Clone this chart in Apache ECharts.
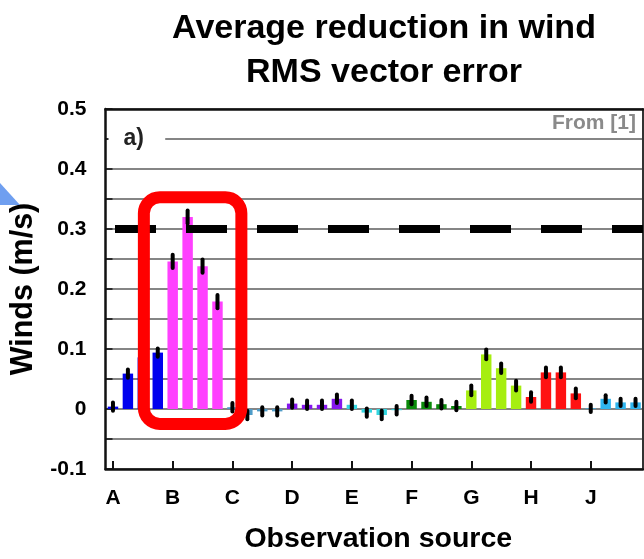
<!DOCTYPE html>
<html>
<head>
<meta charset="utf-8">
<script src="https://cdn.jsdelivr.net/npm/echarts@6/dist/echarts.min.js"></script>
<style>
  html, body { margin: 0; padding: 0; background: #ffffff; }
  #chart { width: 644px; height: 559px; }
</style>
</head>
<body>
<div id="chart"></div>
<script>
// Observation sources, four experiments per source
const categories = ['A', 'B', 'C', 'D', 'E', 'F', 'G', 'H', 'J'];

// Average reduction in wind RMS vector error (m/s), per source
const valuesA = [0.004, 0.059, 0.086, 0.094];
const valuesB = [0.246, 0.320, 0.238, 0.179];
const valuesC = [0.003, -0.010, -0.004, -0.004];
const valuesD = [0.009, 0.007, 0.007, 0.017];
const valuesE = [0.007, -0.006, -0.010, -0.002];
const valuesF = [0.015, 0.012, 0.008, 0.005];
const valuesG = [0.031, 0.091, 0.068, 0.039];
const valuesH = [0.020, 0.061, 0.061, 0.026];
const valuesJ = [0.001, 0.017, 0.011, 0.011];

// Half-length of the error bars, per source
const errorHalf = [0.007, 0.011, 0.007, 0.007, 0.007, 0.007, 0.008, 0.008, 0.006];

// Reference level drawn as a thick dashed line
const thresholdValue = 0.3;

// Value axis range and tick labels
const yMin = -0.1, yMax = 0.5, yStep = 0.05;
const yTickLabels = ['-0.1', '0', '0.1', '0.2', '0.3', '0.4', '0.5'];

const groups = [valuesA, valuesB, valuesC, valuesD, valuesE, valuesF, valuesG, valuesH, valuesJ];
const groupColors = ['#0000ee', '#ff40ff', '#4f9cc8', '#8516ec', '#33d6e0',
                     '#0a8a0a', '#a6ee10', '#ff1212', '#2fb5ef'];

const FONT = '"Liberation Sans", Arial, Helvetica, sans-serif';

// One slot per bar; the source letter sits under the first bar of its group
const slots = [], barData = [], errData = [];
groups.forEach((vals, g) => {
  vals.forEach((v, k) => {
    const i = slots.length;
    slots.push(categories[g] + '_' + k);
    barData.push({ value: v, itemStyle: { color: groupColors[g] } });
    errData.push([i, v, errorHalf[g]]);
  });
});
const perGroup = valuesA.length;

function yLabel(v) {
  const t = Math.round(v * 100);
  if (t % 10 !== 0) return '';
  const hit = yTickLabels.find(l => Math.abs(parseFloat(l) - t / 100) < 1e-9);
  return hit !== undefined ? hit : (t / 100).toFixed(1);
}

const chart = echarts.init(document.getElementById('chart'), null, { renderer: 'canvas' });

const option = {
  backgroundColor: '#ffffff',
  animation: false,
  title: {
    text: 'Average reduction in wind\nRMS vector error',
    left: 379,
    top: 2,
    textAlign: 'center',
    textStyle: {
      fontFamily: FONT, fontWeight: 'bold', fontSize: 34, lineHeight: 44, color: '#000000'
    }
  },
  grid: { left: 105.5, right: 1, top: 109, bottom: 80, containLabel: false },
  xAxis: [
    {
      type: 'category',
      data: slots,
      position: 'bottom',
      boundaryGap: true,
      name: 'Observation source',
      nameLocation: 'middle',
      nameGap: 56,
      nameTextStyle: {
        fontFamily: FONT, fontWeight: 'bold', fontSize: 28.5, color: '#000000',
        padding: [0, 0, 0, 8]
      },
      axisLine: { onZero: false, lineStyle: { color: '#111111', width: 2.5 } },
      axisTick: {
        show: true, inside: true, length: 8, alignWithLabel: true,
        interval: (idx) => idx % perGroup === 0,
        lineStyle: { color: '#111111', width: 2 }
      },
      axisLabel: {
        interval: 0,
        margin: 19,
        fontFamily: FONT, fontWeight: 'bold', fontSize: 21, color: '#000000',
        formatter: (val, idx) => (idx % perGroup === 0 ? categories[idx / perGroup] : '')
      },
      splitLine: { show: false }
    },
    {
      type: 'category',
      data: slots,
      position: 'top',
      axisLine: { onZero: false, lineStyle: { color: '#111111', width: 2.5 } },
      axisTick: { show: false },
      axisLabel: { show: false },
      splitLine: { show: false }
    }
  ],
  yAxis: [
    {
      type: 'value',
      min: yMin, max: yMax, interval: yStep,
      name: 'Winds (m/s)',
      nameLocation: 'middle',
      nameRotate: 90,
      nameGap: 53,
      nameTextStyle: { fontFamily: FONT, fontWeight: 'bold', fontSize: 30.5, color: '#000000' },
      axisLine: { show: true, onZero: false, lineStyle: { color: '#111111', width: 2.5 } },
      axisTick: { show: true, inside: true, length: 7, lineStyle: { color: '#111111', width: 1.5 } },
      axisLabel: {
        margin: 19,
        fontFamily: FONT, fontWeight: 'bold', fontSize: 21, color: '#000000',
        formatter: yLabel
      },
      splitLine: { show: true, lineStyle: { color: '#858585', width: 2 } }
    },
    {
      type: 'value',
      min: yMin, max: yMax, interval: yStep,
      position: 'right',
      axisLine: { show: true, onZero: false, lineStyle: { color: '#333333', width: 2 } },
      axisTick: { show: false },
      axisLabel: { show: false },
      splitLine: { show: false }
    }
  ],
  series: [
    {
      type: 'bar',
      data: barData,
      barWidth: '70%',
      z: 2,
      markLine: {
        silent: true,
        symbol: 'none',
        label: { show: false },
        lineStyle: { color: '#000000', width: 8, type: [41, 30], dashOffset: 61.5 },
        data: [{ yAxis: thresholdValue }],
        z: 5
      }
    },
    {
      type: 'custom',
      data: errData,
      encode: { x: 0, y: 1 },
      z: 4,
      renderItem: (params, api) => {
        const x = api.value(0), v = api.value(1), e = api.value(2);
        const top = api.coord([x, v + e]);
        const bot = api.coord([x, v - e]);
        return {
          type: 'line',
          shape: { x1: top[0], y1: top[1], x2: bot[0], y2: bot[1] },
          style: { stroke: '#000000', lineWidth: 4, lineCap: 'round' }
        };
      }
    }
  ]
};

chart.setOption(option);

// Annotations placed from the axes' own scales
const px = (i, v) => chart.convertToPixel({ xAxisIndex: 0, yAxisIndex: 0 }, [i, v]);
const bw = px(1, 0)[0] - px(0, 0)[0];
const gridLeft = px(0, 0)[0] - bw / 2;
const gridRight = px(slots.length - 1, 0)[0] + bw / 2;

const frameLeft = px(2, 0)[0] + 0.07 * bw;
const frameRight = px(8, 0)[0] + 0.6 * bw;
const frameTop = px(0, 0.353)[1];
const frameBottom = px(0, -0.025)[1];

const labelRowY = px(0, 0.45)[1];

chart.setOption({
  graphic: [
    {
      type: 'polygon',
      shape: { points: [[0, 183], [20, 205], [0, 205]] },
      style: { fill: '#6f9ff0' },
      z: 10
    },
    {
      type: 'rect',
      shape: { x: gridLeft + 3, y: labelRowY - 4, width: px(3, 0)[0] + 0.5 * bw - gridLeft - 3, height: 8 },
      style: { fill: '#ffffff' },
      z: 10
    },
    {
      type: 'text',
      x: gridLeft + 18,
      y: labelRowY,
      style: {
        text: 'a)', fontFamily: FONT, fontWeight: 'bold', fontSize: 23,
        fill: '#222222', verticalAlign: 'middle', align: 'left'
      },
      z: 11
    },
    {
      type: 'text',
      x: gridRight - 7,
      y: px(0, 0.476)[1],
      style: {
        text: 'From [1]', fontFamily: FONT, fontWeight: 'bold', fontSize: 21,
        fill: '#8a8a8a', verticalAlign: 'middle', align: 'right'
      },
      z: 11
    },
    {
      type: 'rect',
      shape: {
        x: frameLeft, y: frameTop,
        width: frameRight - frameLeft, height: frameBottom - frameTop, r: 16
      },
      style: { fill: null, stroke: '#ff0000', lineWidth: 12 },
      z: 20
    }
  ]
});
</script>
</body>
</html>
